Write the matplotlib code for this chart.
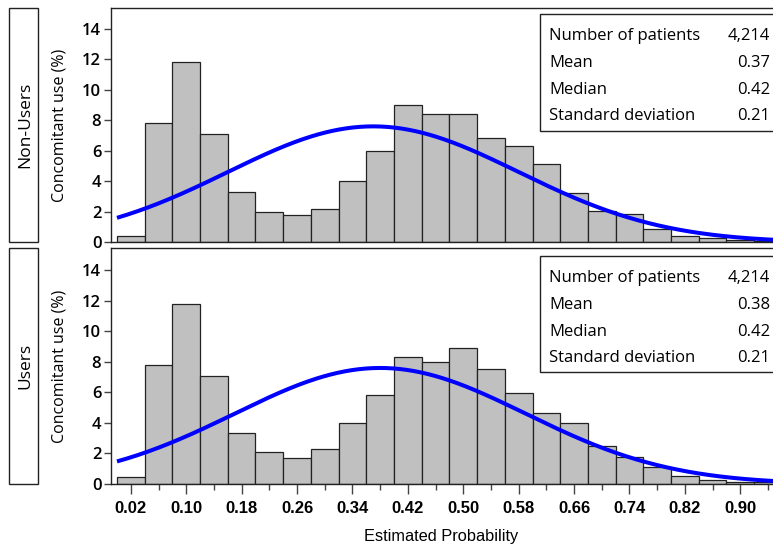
import numpy as np
import matplotlib
matplotlib.use("Agg")
import matplotlib.pyplot as plt
from matplotlib.patches import Rectangle

# histogram bins: width 0.04 on [0, 1]
bin_width = 0.04
bin_left = np.arange(0.0, 1.0, bin_width)

# percent of patients in each bin
nonusers_pct = [0.45, 7.8, 11.8, 7.07, 3.32, 1.97, 1.82, 2.21, 4.04, 5.98, 9.03, 8.38,
                8.38, 6.83, 6.31, 5.13, 3.21, 2.08, 1.84, 0.9, 0.4, 0.31, 0.14, 0.1, 0.04]
users_pct = [0.48, 7.77, 11.77, 7.05, 3.34, 2.07, 1.72, 2.31, 4.0, 5.83, 8.3, 8.0,
             8.89, 7.54, 5.96, 4.65, 4.0, 2.51, 1.74, 1.13, 0.5, 0.25, 0.14, 0.1, 0.04]

groups = ["Non-Users", "Users"]
n_patients = ["4,214", "4,214"]
means = [0.37, 0.38]
medians = [0.42, 0.42]
sds = [0.21, 0.21]

stat_names = ["Number of patients", "Mean", "Median", "Standard deviation"]

W, H = 773, 548
fig = plt.figure(figsize=(W / 100, H / 100), dpi=100)

def fx(px):
    return px / W

def fy(py):
    return 1 - py / H

# panel extents in pixels (top, bottom) and the inset box for each
panels = [(8.3, 242.4), (248.3, 484.0)]
boxes = [(14, 131), (256, 371.7)]
ax_left, ax_right = 111, 780
x0 = -(117 - ax_left) / 692.5
x1 = (ax_right - 117) / 692.5
ax_w = ax_right - ax_left

ytick_font = dict(family="Open Sans", size=12, weight="semibold")
xtick_font = dict(family="Liberation Sans", size=12, weight="bold")
axes = []
for i, (top, bot) in enumerate(panels):
    ax = fig.add_axes([fx(ax_left), fy(bot), fx(ax_w), fy(top) - fy(bot)])
    axes.append(ax)
    pct = nonusers_pct if i == 0 else users_pct
    ax.bar(bin_left + bin_width / 2, pct, width=bin_width, color="#c0c0c0",
           edgecolor="#222222", linewidth=0.9, zorder=2)

    # fitted normal curve scaled to percent per bin
    xs = np.linspace(0.0, 1.0, 400)
    dens = np.exp(-0.5 * ((xs - means[i]) / sds[i]) ** 2) / (sds[i] * np.sqrt(2 * np.pi))
    ax.plot(xs, dens * bin_width * 100, color="#0000ff", lw=2.9, zorder=3,
            solid_capstyle="butt")

    ax.set_xlim(x0, x1)
    ax.set_ylim(0, (bot - top) / 15.27)
    ax.set_yticks(np.arange(0, 15, 2))
    ax.tick_params(axis="y", length=5, width=1, color="#444444", pad=2)
    for lab in ax.get_yticklabels():
        lab.set_fontproperties(ytick_font)
    for s in ax.spines.values():
        s.set_color("#222222")
        s.set_linewidth(1.0)

    ymid = (fy(top) + fy(bot)) / 2
    fig.text(fx(59), ymid, "Concomitant use (%)", rotation=90, ha="center",
             va="center", family="Open Sans", fontsize=11.5)

    # statistics inset
    def ay(py):
        return 1 - (py - top) / (bot - top)
    bt, bb = boxes[i]
    bx0 = (540 - ax_left) / ax_w
    ax.add_patch(Rectangle((bx0, ay(bb)), 1.0, ay(bt) - ay(bb), transform=ax.transAxes,
                           facecolor="white", edgecolor="#222222", lw=1.0, zorder=4,
                           clip_on=False))
    values = [n_patients[i], f"{means[i]:.2f}", f"{medians[i]:.2f}", f"{sds[i]:.2f}"]
    row0 = bt + 22
    for k, (name, val) in enumerate(zip(stat_names, values)):
        yy = ay(row0 + 26.8 * k)
        ax.text((549 - ax_left) / ax_w, yy, name, transform=ax.transAxes,
                ha="left", va="center", family="Open Sans", fontsize=12, zorder=5)
        ax.text((770 - ax_left) / ax_w, yy, val, transform=ax.transAxes,
                ha="right", va="center", family="Open Sans", fontsize=12, zorder=5)

    # group strip on the left
    fig.patches.append(Rectangle((fx(9), fy(bot)), fx(29), fy(top) - fy(bot),
                                 transform=fig.transFigure, facecolor="white",
                                 edgecolor="#222222", lw=1.0))
    fig.text(fx(25), ymid, groups[i], rotation=90, ha="center",
             va="center", family="Open Sans", fontsize=12.5)

axes[0].set_xticks([])
ax = axes[1]
major = np.round(np.arange(0.02, 0.95, 0.08), 2)
minor = np.round(np.arange(0.06, 0.95, 0.08), 2)
ax.set_xticks(major)
ax.set_xticklabels([f"{v:.2f}" for v in major])
ax.set_xticks(minor, minor=True)
ax.tick_params(axis="x", which="major", length=7, width=1, color="#444444", pad=5)
ax.tick_params(axis="x", which="minor", length=4, width=1, color="#444444")
for lab in ax.get_xticklabels():
    lab.set_fontproperties(xtick_font)
fig.text(fx(441), fy(536), "Estimated Probability", ha="center", va="center",
         family="Liberation Sans", fontsize=11.8)

fig.savefig("out.png", dpi=100)
